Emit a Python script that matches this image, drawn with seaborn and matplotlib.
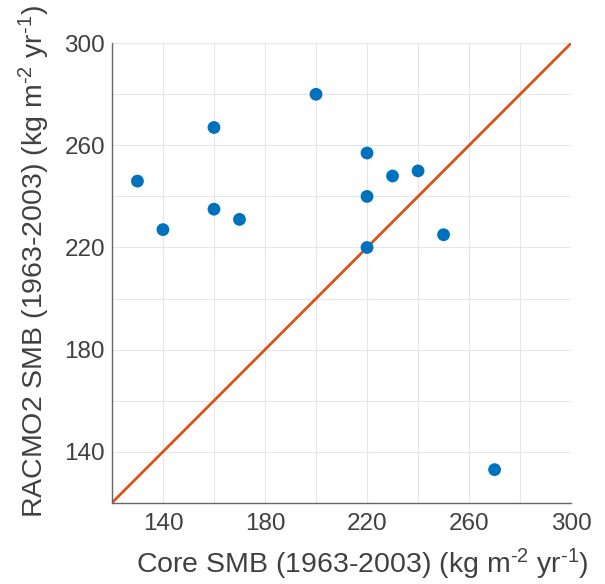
import matplotlib
matplotlib.use("Agg")
import matplotlib.pyplot as plt
import pandas as pd
import seaborn as sns

# core vs RACMO2 SMB values
core_smb = [130, 140, 160, 160, 170, 200, 220, 220, 220, 230, 240, 250, 270]
racmo_smb = [246, 227, 267, 235, 231, 280, 257, 240, 220, 248, 250, 225, 133]
one_to_one = [120, 300]
tick_vals = [120, 140, 160, 180, 200, 220, 240, 260, 280, 300]
tick_labels = ["", "140", "", "180", "", "220", "", "260", "", "300"]

df = pd.DataFrame({"core": core_smb, "racmo": racmo_smb})

sns.set_style("white")
plt.rcParams["font.family"] = ["Liberation Sans", "DejaVu Sans"]
plt.rcParams["mathtext.fontset"] = "custom"
plt.rcParams["mathtext.rm"] = "Liberation Sans"
plt.rcParams["mathtext.it"] = "Liberation Sans"

txt = "#404040"
fig = plt.figure(figsize=(6.05, 5.84), dpi=100)
ax = fig.add_axes([0.185, 0.139, 0.759, 0.787])

sns.lineplot(x=one_to_one, y=one_to_one, ax=ax, color="#D95319", linewidth=2.0, zorder=2)
sns.scatterplot(data=df, x="core", y="racmo", ax=ax, color="#0072BD", s=85,
                edgecolor="none", zorder=3, clip_on=False)

ax.set_xlim(120, 300)
ax.set_ylim(120, 300)
ax.set_xticks(tick_vals)
ax.set_xticklabels(tick_labels)
ax.set_yticks(tick_vals)
ax.set_yticklabels(tick_labels)
ax.grid(True, color="#e6e6e6", linewidth=0.8)
ax.set_axisbelow(True)

for side in ["top", "right"]:
    ax.spines[side].set_visible(False)
for side in ["left", "bottom"]:
    ax.spines[side].set_color("#666666")
    ax.spines[side].set_linewidth(1.0)

ax.tick_params(direction="in", length=4, width=0.8, color="#666666",
               labelsize=17.5, labelcolor=txt, pad=5)
ax.tick_params(axis="x", pad=7)

unit = r"(kg m$^{\text{-}2}$ yr$^{\text{-}1}$)"
ax.set_xlabel("Core SMB (1963-2003) " + unit, fontsize=20.5, color=txt)
ax.set_ylabel("RACMO2 SMB (1963-2003) " + unit, fontsize=20.5, color=txt)
ax.xaxis.set_label_coords(0.545, -0.095)
ax.yaxis.set_label_coords(-0.13, 0.525)

fig.savefig("out.png", dpi=100)
